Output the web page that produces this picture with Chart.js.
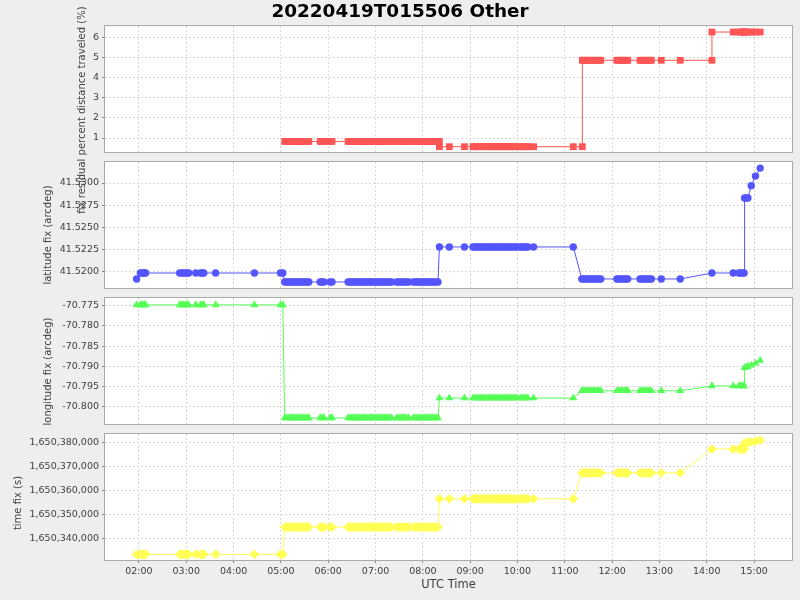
<!DOCTYPE html>
<html>
<head>
<meta charset="utf-8">
<script src="https://cdn.jsdelivr.net/npm/chart.js@4.4.0/dist/chart.umd.min.js"></script>
<style>
  body { margin: 0; background: #eeeeee; }
  #wrap { position: relative; width: 800px; height: 600px; }
  #wrap canvas { position: absolute; left: 0; top: 0; }
</style>
</head>
<body>
<div id="wrap">
  <canvas id="pct" width="800" height="600"></canvas>
  <canvas id="lat" width="800" height="600"></canvas>
  <canvas id="lon" width="800" height="600"></canvas>
  <canvas id="tfix" width="800" height="600"></canvas>
</div>
<script>
// chart title and axis labels
var chartTitle = '20220419T015506 Other';
var xTitle = 'UTC Time';
var pctTitle = 'fix residual percent distance traveled (%)';
var latTitle = 'latitude fix (arcdeg)';
var lonTitle = 'longitude fix (arcdeg)';
var tfixTitle = 'time fix (s)';

// tick values
var hourTicks = [2, 3, 4, 5, 6, 7, 8, 9, 10, 11, 12, 13, 14, 15];
var pctTicks = [1, 2, 3, 4, 5, 6];
var latTicks = [41.52, 41.5225, 41.525, 41.5275, 41.53];
var lonTicks = [-70.8, -70.795, -70.79, -70.785, -70.78, -70.775];
var tfixTicks = [1650340000, 1650350000, 1650360000, 1650370000, 1650380000];

// sample times (UTC hours) shared by latitude / longitude / time fix
var fixHours = [
  1.95, 2.03, 2.06, 2.09, 2.12, 2.14, 2.86, 2.90, 2.94, 2.98,
  3.02, 3.05, 3.20, 3.30, 3.34, 3.37, 3.62, 4.44, 4.99, 5.04,
  5.08, 5.12, 5.16, 5.20, 5.24, 5.28, 5.32, 5.36,
  5.40, 5.44, 5.48, 5.52, 5.56, 5.59, 5.83, 5.87,
  5.91, 6.04, 6.08, 6.42, 6.46, 6.50, 6.54, 6.58,
  6.62, 6.66, 6.70, 6.74, 6.78, 6.82, 6.86, 6.90,
  6.94, 6.98, 7.02, 7.06, 7.10, 7.14, 7.18, 7.22,
  7.26, 7.30, 7.34, 7.45, 7.49, 7.53, 7.57, 7.61,
  7.65, 7.70, 7.80, 7.84, 7.88, 7.92, 7.96, 8.00,
  8.04, 8.08, 8.12, 8.16, 8.20, 8.24, 8.28, 8.32,
  8.35, 8.56, 8.88, 9.06, 9.10, 9.14, 9.18, 9.22,
  9.26, 9.30, 9.35, 9.39, 9.43, 9.47, 9.51, 9.55,
  9.59, 9.63, 9.67, 9.71, 9.75, 9.79, 9.83, 9.87,
  9.91, 9.95, 9.99, 10.06, 10.10, 10.14, 10.18, 10.22,
  10.34, 11.18,
  11.36, 11.40, 11.44, 11.48, 11.52, 11.56, 11.60, 11.64, 11.68,
  11.72, 11.76, 12.10, 12.14, 12.18, 12.22, 12.26, 12.30, 12.33,
  12.59, 12.63, 12.67, 12.71, 12.75, 12.79, 12.83, 13.04, 13.44,
  14.11, 14.56, 14.68, 14.72, 14.76, 14.79,
  14.80, 14.84, 14.87, 14.94, 15.03, 15.13
];

var latitudes = [
  41.51918, 41.51985, 41.51985, 41.51985, 41.51985, 41.51985, 41.51985, 41.51985, 41.51985, 41.51985,
  41.51985, 41.51985, 41.51985, 41.51985, 41.51985, 41.51985, 41.51985, 41.51985, 41.51985, 41.51985,
  41.51884, 41.51884, 41.51884, 41.51884, 41.51884, 41.51884, 41.51884, 41.51884,
  41.51884, 41.51884, 41.51884, 41.51884, 41.51884, 41.51884, 41.51884, 41.51884,
  41.51884, 41.51884, 41.51884, 41.51884, 41.51884, 41.51884, 41.51884, 41.51884,
  41.51884, 41.51884, 41.51884, 41.51884, 41.51884, 41.51884, 41.51884, 41.51884,
  41.51884, 41.51884, 41.51884, 41.51884, 41.51884, 41.51884, 41.51884, 41.51884,
  41.51884, 41.51884, 41.51884, 41.51884, 41.51884, 41.51884, 41.51884, 41.51884,
  41.51884, 41.51884, 41.51884, 41.51884, 41.51884, 41.51884, 41.51884, 41.51884,
  41.51884, 41.51884, 41.51884, 41.51884, 41.51884, 41.51884, 41.51884, 41.51884,
  41.52279, 41.52279, 41.52279, 41.52279, 41.52279, 41.52279, 41.52279, 41.52279,
  41.52279, 41.52279, 41.52279, 41.52279, 41.52279, 41.52279, 41.52279, 41.52279,
  41.52279, 41.52279, 41.52279, 41.52279, 41.52279, 41.52279, 41.52279, 41.52279,
  41.52279, 41.52279, 41.52279, 41.52279, 41.52279, 41.52279, 41.52279, 41.52279,
  41.52279, 41.52279,
  41.51918, 41.51918, 41.51918, 41.51918, 41.51918, 41.51918, 41.51918, 41.51918, 41.51918,
  41.51918, 41.51918, 41.51918, 41.51918, 41.51918, 41.51918, 41.51918, 41.51918, 41.51918,
  41.51918, 41.51918, 41.51918, 41.51918, 41.51918, 41.51918, 41.51918, 41.51918, 41.51918,
  41.51985, 41.51985, 41.51985, 41.51985, 41.51985, 41.51985,
  41.52831, 41.52831, 41.52831, 41.52969, 41.53078, 41.53168
];

var longitudes = [
  -70.7748, -70.7748, -70.7748, -70.7748, -70.7748, -70.7748, -70.7748, -70.7748, -70.7748, -70.7748,
  -70.7748, -70.7748, -70.7748, -70.7748, -70.7748, -70.7748, -70.7748, -70.7748, -70.7748, -70.7748,
  -70.8027, -70.8027, -70.8027, -70.8027, -70.8027, -70.8027, -70.8027, -70.8027,
  -70.8027, -70.8027, -70.8027, -70.8027, -70.8027, -70.8027, -70.8027, -70.8027,
  -70.8027, -70.8027, -70.8027, -70.8027, -70.8027, -70.8027, -70.8027, -70.8027,
  -70.8027, -70.8027, -70.8027, -70.8027, -70.8027, -70.8027, -70.8027, -70.8027,
  -70.8027, -70.8027, -70.8027, -70.8027, -70.8027, -70.8027, -70.8027, -70.8027,
  -70.8027, -70.8027, -70.8027, -70.8027, -70.8027, -70.8027, -70.8027, -70.8027,
  -70.8027, -70.8027, -70.8027, -70.8027, -70.8027, -70.8027, -70.8027, -70.8027,
  -70.8027, -70.8027, -70.8027, -70.8027, -70.8027, -70.8027, -70.8027, -70.8027,
  -70.7978, -70.7978, -70.7978, -70.7978, -70.7978, -70.7978, -70.7978, -70.7978,
  -70.7978, -70.7978, -70.7978, -70.7978, -70.7978, -70.7978, -70.7978, -70.7978,
  -70.7978, -70.7978, -70.7978, -70.7978, -70.7978, -70.7978, -70.7978, -70.7978,
  -70.7978, -70.7978, -70.7978, -70.7978, -70.7978, -70.7978, -70.7978, -70.7978,
  -70.7978, -70.7978,
  -70.7960, -70.7960, -70.7960, -70.7960, -70.7960, -70.7960, -70.7960, -70.7960, -70.7960,
  -70.7960, -70.7960, -70.7960, -70.7960, -70.7960, -70.7960, -70.7960, -70.7960, -70.7960,
  -70.7960, -70.7960, -70.7960, -70.7960, -70.7960, -70.7960, -70.7960, -70.7960, -70.7960,
  -70.7948, -70.7948, -70.7948, -70.7948, -70.7948, -70.7948,
  -70.7903, -70.7902, -70.7900, -70.7897, -70.7892, -70.7885
];

var timeFixes = [
  1650333306, 1650333306, 1650333306, 1650333306, 1650333306, 1650333306, 1650333306, 1650333306, 1650333306, 1650333306,
  1650333306, 1650333306, 1650333306, 1650333306, 1650333306, 1650333306, 1650333306, 1650333306, 1650333306, 1650333306,
  1650344688, 1650344688, 1650344688, 1650344688, 1650344688, 1650344688, 1650344688, 1650344688,
  1650344688, 1650344688, 1650344688, 1650344688, 1650344688, 1650344688, 1650344688, 1650344688,
  1650344688, 1650344688, 1650344688, 1650344688, 1650344688, 1650344688, 1650344688, 1650344688,
  1650344688, 1650344688, 1650344688, 1650344688, 1650344688, 1650344688, 1650344688, 1650344688,
  1650344688, 1650344688, 1650344688, 1650344688, 1650344688, 1650344688, 1650344688, 1650344688,
  1650344688, 1650344688, 1650344688, 1650344688, 1650344688, 1650344688, 1650344688, 1650344688,
  1650344688, 1650344688, 1650344688, 1650344688, 1650344688, 1650344688, 1650344688, 1650344688,
  1650344688, 1650344688, 1650344688, 1650344688, 1650344688, 1650344688, 1650344688, 1650344688,
  1650356460, 1650356460, 1650356460, 1650356460, 1650356460, 1650356460, 1650356460, 1650356460,
  1650356460, 1650356460, 1650356460, 1650356460, 1650356460, 1650356460, 1650356460, 1650356460,
  1650356460, 1650356460, 1650356460, 1650356460, 1650356460, 1650356460, 1650356460, 1650356460,
  1650356460, 1650356460, 1650356460, 1650356460, 1650356460, 1650356460, 1650356460, 1650356460,
  1650356460, 1650356460,
  1650367296, 1650367296, 1650367296, 1650367296, 1650367296, 1650367296, 1650367296, 1650367296, 1650367296,
  1650367296, 1650367296, 1650367296, 1650367296, 1650367296, 1650367296, 1650367296, 1650367296, 1650367296,
  1650367296, 1650367296, 1650367296, 1650367296, 1650367296, 1650367296, 1650367296, 1650367296, 1650367296,
  1650377196, 1650377196, 1650377196, 1650377196, 1650377196, 1650377196,
  1650379680, 1650379824, 1650379932, 1650380184, 1650380508, 1650380868
];

// residual percent distance has its own sample times (starts after the first fix)
var pctHours = [
  5.08, 5.12, 5.16, 5.20, 5.24, 5.28, 5.32, 5.36,
  5.40, 5.44, 5.48, 5.52, 5.56, 5.59, 5.83, 5.87,
  5.91, 6.04, 6.08, 6.42, 6.46, 6.50, 6.54, 6.58,
  6.62, 6.66, 6.70, 6.74, 6.78, 6.82, 6.86, 6.90,
  6.94, 6.98, 7.02, 7.06, 7.10, 7.14, 7.18, 7.22,
  7.26, 7.30, 7.34, 7.45, 7.49, 7.53, 7.57, 7.61,
  7.65, 7.70, 7.80, 7.84, 7.88, 7.92, 7.96, 8.00,
  8.04, 8.08, 8.12, 8.16, 8.20, 8.24, 8.28, 8.32,
  8.35,
  8.35, 8.56, 8.88, 9.06, 9.10, 9.14, 9.18, 9.22,
  9.26, 9.30, 9.35, 9.39, 9.43, 9.47, 9.51, 9.55,
  9.59, 9.63, 9.67, 9.71, 9.75, 9.79, 9.83, 9.87,
  9.91, 9.95, 9.99, 10.06, 10.10, 10.14, 10.18, 10.22,
  10.34, 11.18, 11.37,
  11.37, 11.40, 11.44, 11.48, 11.52, 11.56, 11.60, 11.64, 11.68,
  11.72, 11.76, 12.10, 12.14, 12.18, 12.22, 12.26, 12.30, 12.33,
  12.59, 12.63, 12.67, 12.71, 12.75, 12.79, 12.83, 13.04, 13.44,
  14.11,
  14.11, 14.56, 14.68, 14.72, 14.76, 14.79,
  14.80, 14.84, 14.87, 14.94, 15.03, 15.13
];

var pctValues = [
  0.83, 0.83, 0.83, 0.83, 0.83, 0.83, 0.83, 0.83,
  0.83, 0.83, 0.83, 0.83, 0.83, 0.83, 0.83, 0.83,
  0.83, 0.83, 0.83, 0.83, 0.83, 0.83, 0.83, 0.83,
  0.83, 0.83, 0.83, 0.83, 0.83, 0.83, 0.83, 0.83,
  0.83, 0.83, 0.83, 0.83, 0.83, 0.83, 0.83, 0.83,
  0.83, 0.83, 0.83, 0.83, 0.83, 0.83, 0.83, 0.83,
  0.83, 0.83, 0.83, 0.83, 0.83, 0.83, 0.83, 0.83,
  0.83, 0.83, 0.83, 0.83, 0.83, 0.83, 0.83, 0.83,
  0.83,
  0.57, 0.57, 0.57, 0.57, 0.57, 0.57, 0.57, 0.57,
  0.57, 0.57, 0.57, 0.57, 0.57, 0.57, 0.57, 0.57,
  0.57, 0.57, 0.57, 0.57, 0.57, 0.57, 0.57, 0.57,
  0.57, 0.57, 0.57, 0.57, 0.57, 0.57, 0.57, 0.57,
  0.57, 0.57, 0.57,
  4.85, 4.85, 4.85, 4.85, 4.85, 4.85, 4.85, 4.85, 4.85,
  4.85, 4.85, 4.85, 4.85, 4.85, 4.85, 4.85, 4.85, 4.85,
  4.85, 4.85, 4.85, 4.85, 4.85, 4.85, 4.85, 4.85, 4.85,
  4.85,
  6.25, 6.25, 6.25, 6.25, 6.25, 6.25,
  6.25, 6.25, 6.25, 6.25, 6.25, 6.25
];

Chart.defaults.font.family = "'DejaVu Sans', sans-serif";
Chart.defaults.color = '#404040';

// white plot background with a grey outline, like the original plot frame
var plotFrame = {
  id: 'plotFrame',
  beforeDraw: function(chart) {
    var a = chart.chartArea, ctx = chart.ctx;
    ctx.save();
    ctx.fillStyle = '#ffffff';
    ctx.fillRect(a.left, a.top, a.right - a.left, a.bottom - a.top);
    ctx.restore();
  },
  afterDraw: function(chart) {
    var a = chart.chartArea, ctx = chart.ctx;
    ctx.save();
    ctx.strokeStyle = '#aaaaaa';
    ctx.lineWidth = 1;
    ctx.setLineDash([]);
    ctx.strokeRect(a.left - 0.5, a.top - 0.5, a.right - a.left + 1, a.bottom - a.top + 1);
    ctx.restore();
  }
};

// rotated y axis label; the original sits a little below the panel centre
var sideLabel = {
  id: 'sideLabel',
  afterDraw: function(chart, args, opts) {
    var s = chart.scales.y, ctx = chart.ctx;
    ctx.save();
    ctx.translate(opts.x, (s.top + s.bottom) / 2 + opts.shift);
    ctx.rotate(-Math.PI / 2);
    ctx.font = "10px 'DejaVu Sans', sans-serif";
    ctx.fillStyle = '#404040';
    ctx.textAlign = 'center';
    ctx.textBaseline = 'middle';
    ctx.fillText(opts.text, 0, 0);
    ctx.restore();
  }
};

function toPoints(xs, ys) {
  var pts = [];
  for (var i = 0; i < xs.length; i++) {
    pts.push({x: xs[i], y: ys[i]});
  }
  return pts;
}

function hourLabel(v) {
  return (v < 10 ? '0' : '') + v + ':00';
}

var gridColor = '#d8d8d8';

function makePanel(id, o) {
  var showX = !!o.showX;
  var xScale = {
    type: 'linear',
    min: 1.2824,
    max: 15.802,
    afterBuildTicks: function(scale) {
      scale.ticks = hourTicks.map(function(v) { return {value: v}; });
    },
    grid: {
      color: gridColor,
      drawTicks: showX,
      tickLength: 3,
      tickColor: '#888888',
      tickBorderDash: []
    },
    border: { display: false, dash: [2, 2] },
    ticks: {
      display: showX,
      padding: 3,
      maxRotation: 0,
      autoSkip: false,
      font: { size: 9.5 },
      callback: hourLabel
    },
    title: {
      display: showX,
      text: xTitle,
      color: '#404040',
      font: { size: 11.5 },
      padding: { top: 0, bottom: 8 }
    },
    afterFit: function(scale) {
      scale.height = o.xHeight;
    }
  };

  var yScale = {
    type: 'linear',
    position: 'left',
    min: o.yMin,
    max: o.yMax,
    afterBuildTicks: function(scale) {
      scale.ticks = o.yTicks.map(function(v) { return {value: v}; });
    },
    grid: {
      color: gridColor,
      tickLength: 3,
      tickColor: '#888888',
      tickBorderDash: []
    },
    border: { display: false, dash: [2, 2] },
    ticks: {
      padding: 3,
      autoSkip: false,
      font: { size: 9.5 },
      callback: o.yFormat
    },
    title: { display: false },
    afterFit: function(scale) {
      scale.width = 105 - o.padLeft;
    }
  };

  return new Chart(document.getElementById(id).getContext('2d'), {
    type: 'line',
    data: {
      datasets: [{
        label: o.yTitle,
        data: toPoints(o.xs, o.ys),
        borderColor: o.color,
        backgroundColor: o.color,
        borderWidth: 1,
        pointStyle: o.pointStyle,
        pointRadius: o.pointRadius,
        pointBackgroundColor: o.color,
        pointBorderWidth: 0,
        tension: 0,
        fill: false
      }]
    },
    options: {
      responsive: false,
      animation: false,
      events: [],
      layout: {
        padding: { left: o.padLeft, right: 8, top: o.padTop, bottom: o.padBottom }
      },
      plugins: {
        legend: { display: false },
        tooltip: { enabled: false },
        title: {
          display: !!o.mainTitle,
          text: o.mainTitle || '',
          color: '#000000',
          font: { size: 18.4, weight: 'bold' },
          padding: { top: 1, bottom: 3 }
        },
        sideLabel: { text: o.yTitle, x: o.labelX, shift: o.labelShift }
      },
      scales: { x: xScale, y: yScale }
    },
    plugins: [plotFrame, sideLabel]
  });
}

makePanel('pct', {
  mainTitle: chartTitle,
  xs: pctHours, ys: pctValues,
  color: '#ff5555', pointStyle: 'rect', pointRadius: 4.8,
  yMin: 0.307, yMax: 6.545, yTicks: pctTicks,
  yFormat: function(v) { return String(v); },
  yTitle: pctTitle, labelX: 82, labelShift: 21,
  padLeft: 8, padTop: 0, padBottom: 448, xHeight: 0
});

makePanel('lat', {
  xs: fixHours, ys: latitudes,
  color: '#5555ff', pointStyle: 'circle', pointRadius: 3.7,
  yMin: 41.51816, yMax: 41.53237, yTicks: latTicks,
  yFormat: function(v) { return v.toFixed(4); },
  yTitle: latTitle, labelX: 48, labelShift: 10,
  padLeft: 0, padTop: 162, padBottom: 312, xHeight: 0
});

makePanel('lon', {
  xs: fixHours, ys: longitudes,
  color: '#55ff55', pointStyle: 'triangle', pointRadius: 4.6,
  yMin: -70.8042, yMax: -70.7731, yTicks: lonTicks,
  yFormat: function(v) { return v.toFixed(3); },
  yTitle: lonTitle, labelX: 48, labelShift: 10.5,
  padLeft: 0, padTop: 298, padBottom: 176, xHeight: 0
});

makePanel('tfix', {
  showX: true,
  xs: fixHours, ys: timeFixes,
  color: '#ffff55', pointStyle: 'rectRot', pointRadius: 4.8,
  yMin: 1650330960, yMax: 1650383500, yTicks: tfixTicks,
  yFormat: function(v) { return v.toLocaleString('en-US'); },
  yTitle: tfixTitle, labelX: 18.5, labelShift: 6,
  padLeft: 0, padTop: 434, padBottom: 0, xHeight: 40
});
</script>
</body>
</html>
